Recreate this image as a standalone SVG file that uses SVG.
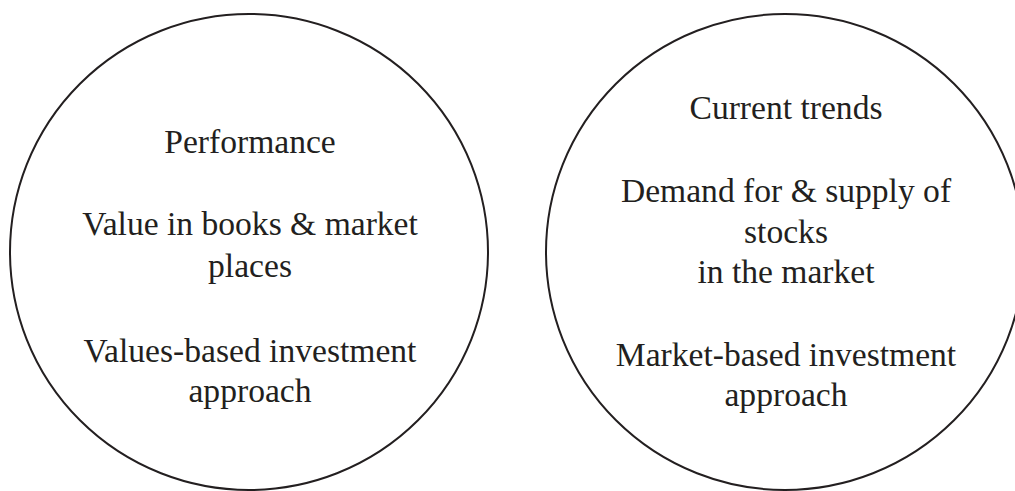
<svg xmlns="http://www.w3.org/2000/svg" width="1015" height="491" viewBox="0 0 1015 491">
<style>
.c{fill:none;stroke:#231f20;stroke-width:2}
.t{font-family:"Liberation Serif","Times New Roman",serif;font-size:33.6px;fill:#231f20;text-anchor:middle}
</style>
<rect width="1015" height="491" fill="#ffffff"/>
<g id="node-left">
<ellipse class="c" cx="249" cy="252" rx="239" ry="238"/>
<text class="t" x="250" y="153">Performance</text>
<text class="t" x="250" y="235">Value in books &amp; market</text>
<text class="t" x="250" y="277">places</text>
<text class="t" x="250" y="362">Values-based investment</text>
<text class="t" x="250" y="402">approach</text>
</g>
<g id="node-right">
<ellipse class="c" cx="785" cy="252" rx="239" ry="238"/>
<text class="t" x="786" y="119">Current trends</text>
<text class="t" x="786" y="202">Demand for &amp; supply of</text>
<text class="t" x="786" y="243">stocks</text>
<text class="t" x="786" y="283">in the market</text>
<text class="t" x="786" y="366">Market-based investment</text>
<text class="t" x="786" y="406">approach</text>
</g>
<g id="connectors"/>
</svg>
